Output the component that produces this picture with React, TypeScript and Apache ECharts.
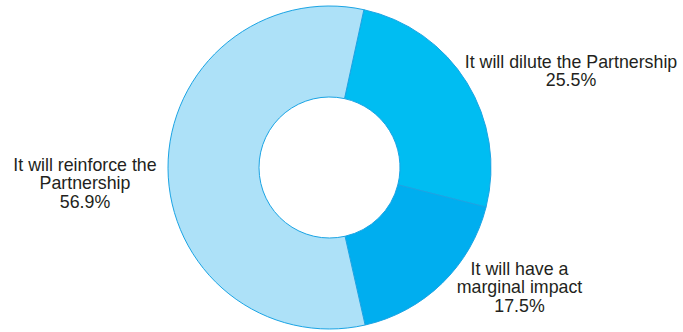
import React, { useEffect, useRef } from "react";
import * as echarts from "echarts";

const categories = [
  "It will dilute the Partnership",
  "It will have a\nmarginal impact",
  "It will reinforce the\nPartnership",
];
const values = [25.5, 17.5, 56.9];
const colors = ["#00bdf2", "#00aeef", "#ade1f8"];

const labelPositions: [number, number][] = [
  [571, 71],
  [519.5, 287],
  [85, 183],
];

export default function App() {
  const ref = useRef<HTMLDivElement>(null);
  useEffect(() => {
    document.body.style.margin = "0";
    const chart = echarts.init(ref.current!, undefined, { renderer: "svg" });
    chart.setOption({
      animation: false,
      backgroundColor: "#ffffff",
      series: [
        {
          type: "pie",
          center: [329.5, 167.5],
          radius: [70.5, 161.5],
          startAngle: 77.7,
          clockwise: true,
          avoidLabelOverlap: false,
          data: categories.map((name, i) => ({
            name,
            value: values[i],
            itemStyle: {
              color: colors[i],
              borderColor: "#1ba4e4",
              borderWidth: 1,
            },
          })),
          label: {
            show: true,
            position: "outside",
            formatter: "{b}\n{c}%",
            color: "#231f20",
            fontFamily: "'Liberation Sans', Arial, Helvetica, sans-serif",
            fontSize: 17.8,
            lineHeight: 18.5,
            align: "center",
          },
          labelLine: { show: false },
          labelLayout: (params: any) => {
            const p = labelPositions[params.dataIndex];
            return { x: p[0], y: p[1], align: "center", verticalAlign: "middle" };
          },
          emphasis: { disabled: true },
        },
      ],
    });
    return () => chart.dispose();
  }, []);
  return (
    <div
      ref={ref}
      style={{ position: "absolute", left: 0, top: 0, width: 683, height: 332 }}
    />
  );
}
